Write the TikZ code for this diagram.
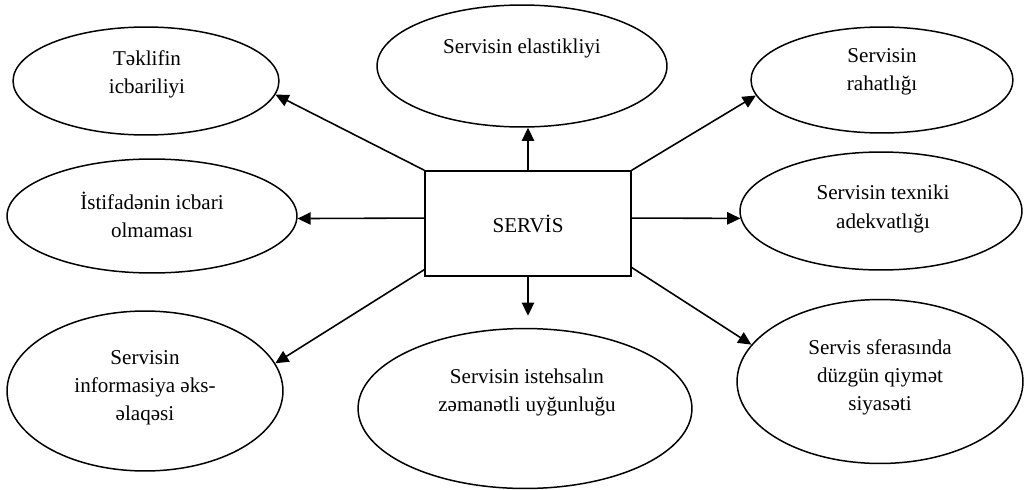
\documentclass[tikz,border=0pt]{standalone}
\usepackage{fontspec}
\setmainfont{Liberation Serif}
\usetikzlibrary{shapes.geometric,arrows.meta}
\begin{document}
\begin{tikzpicture}[x=0.02cm,y=-0.02cm,
  oval/.style 2 args={draw,ellipse,line width=0.85pt,inner sep=0pt,
    minimum width={#1*0.04cm},minimum height={#2*0.04cm}},
  lbl/.style={align=center,font=\fontsize{12}{16}\selectfont,inner sep=0pt},
  arr/.style={line width=0.9pt,-{Triangle[length=7.5pt,width=7pt]}},
  hub/.style={draw,rectangle,line width=0.9pt,minimum width=4.12cm,
    minimum height=2.1cm,font=\fontsize{12}{16}\selectfont}]
\useasboundingbox (0,0) rectangle (1024,490);

% central box
\node[hub] (srv) at (528,223.5) {SERVİS};

% surrounding ellipses
\node[oval={133}{54}] (e1) at (146,81) {};
\node[oval={145}{61}] (e2) at (522,66) {};
\node[oval={131}{53}] (e3) at (882,80) {};
\node[oval={141}{59}] (e4) at (881,211) {};
\node[oval={145}{57}] (e5) at (152,216) {};
\node[oval={138}{80}] (e6) at (145,391) {};
\node[oval={167}{80}] (e7) at (525,408.5) {};
\node[oval={143}{82}] (e8) at (880,381.5) {};

% ellipse captions
\node[lbl] (t1) at (147,74) {Təklifin\\icbariliyi};
\node[lbl] (t2) at (522,48) {Servisin elastikliyi};
\node[lbl] (t3) at (882,71.5) {Servisin\\rahatlığı};
\node[lbl] (t4) at (883,209) {Servisin texniki\\adekvatlığı};
\node[lbl] (t5) at (152,215) {İstifadənin icbari\\olmaması};
\node[lbl] (t6) at (145,387.5) {Servisin\\informasiya əks-\\əlaqəsi};
\node[lbl] (t7) at (527,392.5) {Servisin istehsalın\\zəmanətli uyğunluğu};
\node[lbl] (t8) at (880,377) {Servis sferasında\\düzgün qiymət\\siyasəti};

% connectors
\draw[arr] (srv.north west) -- (e1.-6);
\draw[arr] (srv.north) -- (srv.north |- e2.south);
\draw[arr] (srv.north east) -- (e3.187);
\draw[arr] (srv.3) -- (e4.183);
\draw[arr] (srv.177) -- (e5.-1);
\draw[arr] (srv.204) -- (e6.12);
\draw[arr,shorten >=0.24cm] (srv.south) -- (srv.south |- e7.north);
\draw[arr] (srv.-23) -- (e8.164);
\end{tikzpicture}
\end{document}
